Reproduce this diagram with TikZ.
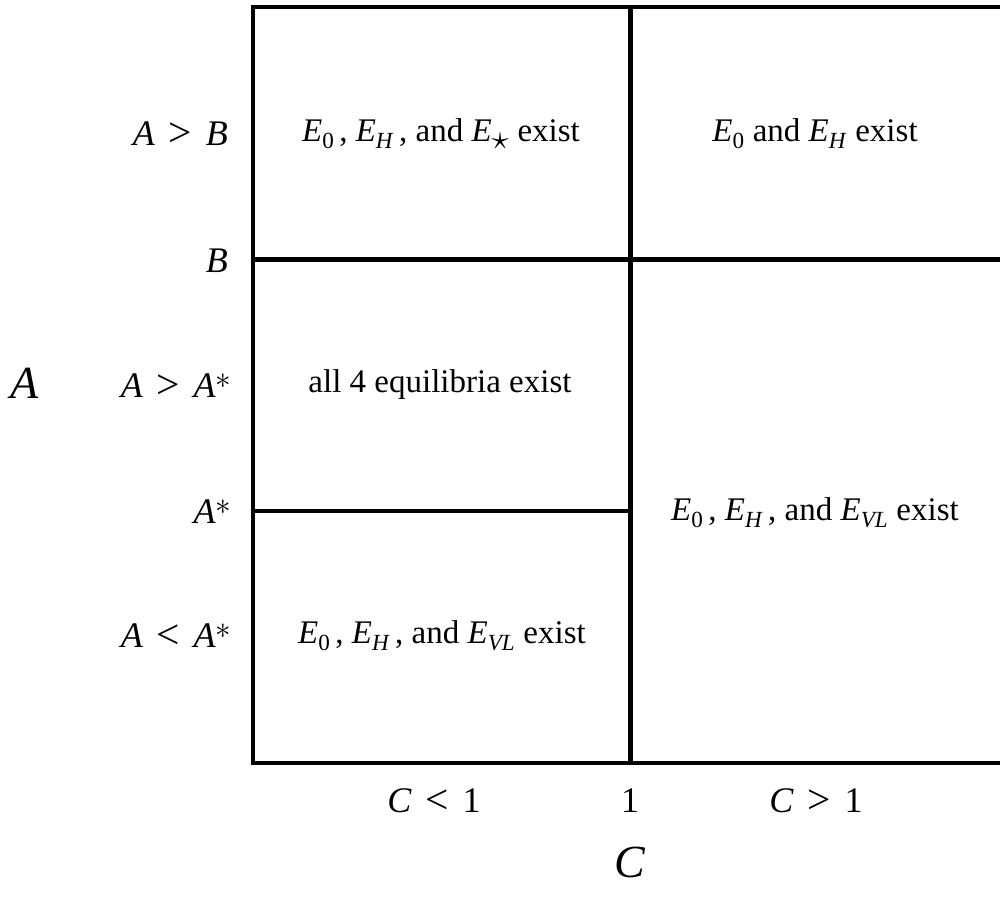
\documentclass[tikz,border=0pt]{standalone}
\usepackage{fontspec}
\setmainfont{Liberation Serif}
\newcommand\iv[1]{\textit{#1}}
\newcommand\sbx[1]{\textsubscript{#1}}
\newcommand\relsym[1]{\hspace{0.38em}\raisebox{-0.035em}{\scalebox{1.15}{#1}}\hspace{0.38em}}
\newcommand\astsup{\textsuperscript{\scalebox{1.25}{$\ast$}}}
\newcommand\cm{\hspace{0.15em},}
\begin{document}
\begin{tikzpicture}[x=1pt,y=-1pt,
  grid/.style={line width=4.6pt, line join=miter},
  lab/.style={font=\fontsize{36}{40}\selectfont, anchor=east, inner sep=0pt},
  cell/.style={font=\fontsize{33}{38}\selectfont, inner sep=0pt},
  big/.style={font=\fontsize{46}{50}\selectfont, inner sep=0pt}]
\useasboundingbox (0,0) rectangle (1000,897);
% grid
\coordinate (tl) at (253,7);
\coordinate (bl) at (253,763);
\coordinate (tr) at (1010,7);
\coordinate (br) at (1010,763);
\coordinate (mt) at (630.5,7);
\coordinate (mb) at (630.5,763);
\coordinate (hl) at (253,259.5);
\coordinate (hr) at (1010,259.5);
\coordinate (ql) at (253,511);
\coordinate (qr) at (630.5,511);
\draw[grid] (tr) -- (tl) -- (bl) -- (br);
\draw[grid] (mt) -- (mb);
\draw[grid] (hl) -- (hr);
\draw[grid] (ql) -- (qr);
% cell texts
\node[cell] (c1) at (441,134) {\iv{E}\sbx{0}\cm{} \iv{E}\sbx{\iv{H}}\cm{} and \iv{E}\sbx{\scalebox{1.4}{$\star$}} exist};
\node[cell] (c2) at (815,134) {\iv{E}\sbx{0} and \iv{E}\sbx{\iv{H}} exist};
\node[cell] (c3) at (440,385) {all 4 equilibria exist};
\node[cell] (c4) at (815,513) {\iv{E}\sbx{0}\cm{} \iv{E}\sbx{\iv{H}}\cm{} and \iv{E}\sbx{\iv{VL}} exist};
\node[cell] (c5) at (442,636) {\iv{E}\sbx{0}\cm{} \iv{E}\sbx{\iv{H}}\cm{} and \iv{E}\sbx{\iv{VL}} exist};
% row labels
\node[lab] (r1) at (228,134) {\iv{A}\relsym{>}\iv{B}};
\node[lab] (r2) at (228,261) {\iv{B}};
\node[lab] (r3) at (232,386) {\iv{A}\relsym{>}\iv{A}\astsup};
\node[lab] (r4) at (232,512) {\iv{A}\astsup};
\node[lab] (r5) at (232,636) {\iv{A}\relsym{<}\iv{A}\astsup};
% column labels
\node[lab, anchor=base] (k1) at (434,812) {\iv{C}\relsym{<}1};
\node[lab, anchor=base] (k2) at (630,812) {1};
\node[lab, anchor=base] (k3) at (816,812) {\iv{C}\relsym{>}1};
% axis labels
\node[big] (ax) at (25,383) {\iv{A}};
\node[big] (ay) at (630,862) {\iv{C}};
\end{tikzpicture}
\end{document}
